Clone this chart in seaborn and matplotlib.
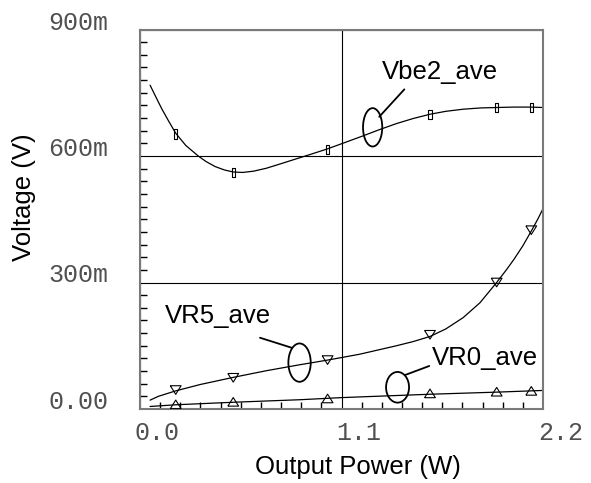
import numpy as np
import pandas as pd
import matplotlib
matplotlib.use("Agg")
import matplotlib.pyplot as plt
import seaborn as sns
from matplotlib.patches import Ellipse
from matplotlib.ticker import FixedLocator, MultipleLocator
from matplotlib.transforms import ScaledTranslation

# ---------------- data ----------------
vbe2_curve_x = [0.055, 0.09, 0.12, 0.16, 0.195, 0.25, 0.318, 0.36, 0.41, 0.46, 0.51, 0.56,
                0.62, 0.69, 0.764, 0.873, 0.946, 1.024, 1.1, 1.219, 1.31, 1.401, 1.492,
                1.583, 1.67, 1.765, 1.86, 1.947, 2.04, 2.136, 2.2]
vbe2_curve_y = [0.768, 0.737, 0.711, 0.680, 0.654, 0.625, 0.600, 0.587, 0.575, 0.567, 0.562, 0.561,
                0.564, 0.571, 0.581, 0.596, 0.606, 0.617, 0.629, 0.648, 0.663, 0.677, 0.689,
                0.699, 0.706, 0.711, 0.714, 0.715, 0.716, 0.716, 0.715]

vr5_curve_x = [0.055, 0.10, 0.195, 0.328, 0.509, 0.692, 0.873, 1.024, 1.1, 1.2, 1.31, 1.40,
               1.492, 1.583, 1.67, 1.765, 1.856, 1.947, 2.0, 2.04, 2.09, 2.136, 2.17, 2.2]
vr5_curve_y = [0.021, 0.030, 0.043, 0.058, 0.075, 0.091, 0.105, 0.116, 0.122, 0.130, 0.141, 0.150,
               0.160, 0.172, 0.190, 0.217, 0.252, 0.300, 0.330, 0.354, 0.387, 0.422, 0.449, 0.475]

vr0_curve_x = [0.055, 0.195, 0.509, 0.873, 1.1, 1.583, 1.947, 2.2]
vr0_curve_y = [0.006, 0.010, 0.016, 0.022, 0.027, 0.035, 0.040, 0.044]

marker_x = [0.195, 0.509, 1.024, 1.583, 1.947, 2.136]
vbe2_pts = [0.652, 0.561, 0.616, 0.699, 0.715, 0.715]
vr5_pts = [0.045, 0.074, 0.116, 0.176, 0.300, 0.424]
vr0_pts = [0.011, 0.017, 0.025, 0.037, 0.041, 0.043]

x_ticks = [0.0, 1.1, 2.2]
x_tick_labels = ["0.0", "1.1", "2.2"]
y_ticks = [0.0, 0.3, 0.6, 0.9]
y_tick_labels = ["0.00", "300m", "600m", "900m"]

series_names = ["Vbe2_ave", "VR5_ave", "VR0_ave"]

# ---------------- figure ----------------
sns.set_style("white")
plt.rcParams["font.family"] = ["Liberation Sans", "DejaVu Sans"]
plt.rcParams["text.color"] = "black"
plt.rcParams["axes.labelcolor"] = "black"

fig = plt.figure(figsize=(5.91, 4.83), dpi=100)
ax = fig.add_axes([140 / 591, 74 / 483, 403 / 591, 379.5 / 483])

line_kw = dict(color="black", linewidth=0.9, estimator=None, sort=False, legend=False)
sns.lineplot(x=vbe2_curve_x, y=vbe2_curve_y, ax=ax, **line_kw)
sns.lineplot(x=vr5_curve_x, y=vr5_curve_y, ax=ax, **line_kw)
sns.lineplot(x=vr0_curve_x, y=vr0_curve_y, ax=ax, **line_kw)

rect_marker = [(-0.35, -1), (0.35, -1), (0.35, 1), (-0.35, 1), (-0.35, -1)]
down_tri = [(-1, 0.8), (1, 0.8), (0, -0.8), (-1, 0.8)]
up_tri = [(-1, -0.8), (1, -0.8), (0, 0.8), (-1, -0.8)]
sc_kw = dict(color="black", facecolor="none", edgecolor="black", linewidth=0.8, legend=False, zorder=3)
sns.scatterplot(x=marker_x, y=vbe2_pts, ax=ax, marker=rect_marker, s=44, **sc_kw)
sns.scatterplot(x=marker_x, y=vr5_pts, ax=ax, marker=down_tri, s=60, **sc_kw)
sns.scatterplot(x=marker_x, y=vr0_pts, ax=ax, marker=up_tri, s=60, **sc_kw)

# annotations (ellipses + leader lines + names)
ann_kw = dict(color="black", linewidth=1.3)
ax.add_patch(Ellipse((1.270, 0.668), 0.105, 0.091, fill=False, edgecolor="black", linewidth=1.3, zorder=4))
ax.add_patch(Ellipse((0.871, 0.110), 0.122, 0.091, fill=False, edgecolor="black", linewidth=1.3, zorder=4))
ax.add_patch(Ellipse((1.406, 0.0515), 0.1255, 0.0728, fill=False, edgecolor="black", linewidth=1.3, zorder=4))
ax.plot([1.306, 1.443], [0.693, 0.758], **ann_kw)
ax.plot([0.655, 0.830], [0.169, 0.145], **ann_kw)
ax.plot([1.447, 1.579], [0.0806, 0.102], **ann_kw)

txt_kw = dict(fontsize=18.5, color="black", ha="left", va="baseline", zorder=5)
ax.text(1.319, 0.7825, series_names[0], **txt_kw)
ax.text(0.1365, 0.2047, series_names[1], **txt_kw)
ax.text(1.592, 0.1043, series_names[2], **txt_kw)

# axes, ticks, grid
ax.set_xlim(0, 2.2)
ax.set_ylim(0, 0.9)
ax.xaxis.set_major_locator(FixedLocator(x_ticks))
ax.yaxis.set_major_locator(FixedLocator(y_ticks))
ax.xaxis.set_minor_locator(MultipleLocator(0.11))
ax.yaxis.set_minor_locator(MultipleLocator(0.03))

tick_font = dict(family="Liberation Mono", size=18)
ax.set_xticklabels(x_tick_labels, ha="left", va="top", fontdict=tick_font, color="#505050")
ax.set_yticklabels(y_tick_labels, ha="left", va="baseline", fontdict=tick_font, color="#505050")

ax.tick_params(which="major", length=0)
ax.tick_params(axis="x", which="major", pad=8.6)
ax.tick_params(axis="y", which="major", pad=66)
ax.tick_params(which="minor", direction="in", length=5, width=1, color="black",
               bottom=True, left=True, top=False, right=False)
ax.xaxis.set_tick_params(which="minor", bottom=True)

offset = ScaledTranslation(-0.05, 0, fig.dpi_scale_trans)
for lab in ax.get_xticklabels():
    lab.set_transform(lab.get_transform() + offset)

ax.grid(True, which="major", color="black", linewidth=0.8)
ax.set_axisbelow(True)
for sp in ax.spines.values():
    sp.set_visible(True)
    sp.set_color("#7a7a7a")
    sp.set_linewidth(1.5)

ax.set_xlabel("Output Power (W)", fontsize=18.5, color="black")
ax.set_ylabel("Voltage (V)", fontsize=18.5, color="black")
ax.xaxis.set_label_coords(0.54, -0.152)
ax.xaxis.label.set_verticalalignment("center")
ax.yaxis.set_label_coords(-0.288, 0.559)
ax.yaxis.label.set_verticalalignment("center")

fig.savefig("out.png", dpi=100)
